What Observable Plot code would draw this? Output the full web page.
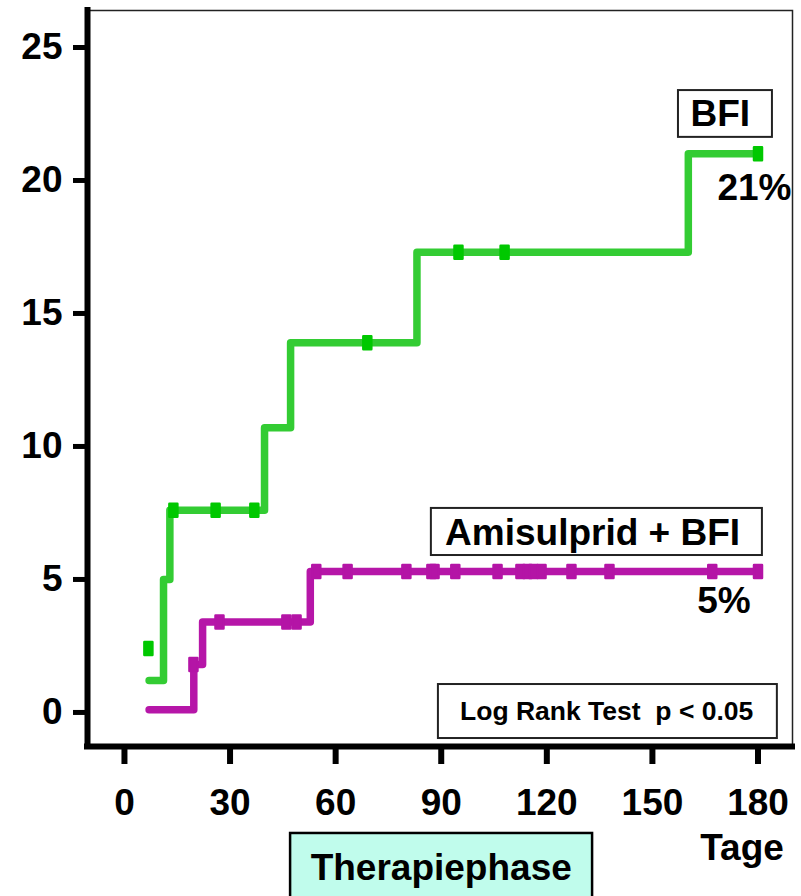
<!DOCTYPE html>
<html>
<head>
<meta charset="utf-8">
<script src="https://cdn.jsdelivr.net/npm/d3@7"></script>
<script src="https://cdn.jsdelivr.net/npm/@observablehq/plot@0.6"></script>
<style>
  html, body { margin: 0; padding: 0; background: #fff; }
  #chart { width: 801px; height: 896px; overflow: hidden; }
</style>
</head>
<body>
<div id="chart"></div>
<script>
// ---- Data ----
const xTicks = [0, 30, 60, 90, 120, 150, 180];
const yTicks = [0, 5, 10, 15, 20, 25];

// BFI (green) step curve: day of step, cumulative %
const bfiDays = [7, 11.1, 12.9, 39.8, 47.2, 83.1, 160.2, 180];
const bfiPct  = [1.2, 5.0, 7.6, 10.7, 13.9, 17.3, 21.0, 21.0];
// BFI censored observations
const bfiCensDays = [6.8, 13.9, 25.9, 36.9, 69, 94.9, 108, 180];
const bfiCensPct  = [2.4, 7.6, 7.6, 7.6, 13.9, 17.3, 17.3, 21.0];

// Amisulprid + BFI (magenta) step curve
const amiDays = [7, 19.7, 22.2, 52.8, 180];
const amiPct  = [0.1, 1.8, 3.4, 5.3, 5.3];
// Amisulprid + BFI censored observations
const amiCensDays = [19.6, 27, 46, 48.9, 54.5, 63.4, 80.1, 87.2, 88.1, 94, 106, 112.5, 114.5, 116.2, 118.5, 127, 137.8, 167, 180];
const amiCensPct  = [1.8, 3.4, 3.4, 3.4, 5.3, 5.3, 5.3, 5.3, 5.3, 5.3, 5.3, 5.3, 5.3, 5.3, 5.3, 5.3, 5.3, 5.3, 5.3];

// Annotation texts
const boxLabels = ["BFI", "Amisulprid + BFI", "Log Rank Test\u00A0\u00A0p < 0.05"];
const endLabels = ["21%", "5%"];
const phaseLabel = "Therapiephase";
const unitLabel = "Tage";

// ---- Build tables ----
const bfi = bfiDays.map((d, i) => ({day: d, pct: bfiPct[i]}));
const ami = amiDays.map((d, i) => ({day: d, pct: amiPct[i]}));
const bfiCens = bfiCensDays.map((d, i) => ({day: d, pct: bfiCensPct[i]}));
const amiCens = amiCensDays.map((d, i) => ({day: d, pct: amiCensPct[i]}));

const boxes = [
  {label: boxLabels[0], x1: 157.4, x2: 184.1, y1: 21.62, y2: 23.38, tx: 169.3, ty: 22.5, size: 37},
  {label: boxLabels[1], x1: 87.2,  x2: 181.25, y1: 5.90, y2: 7.67, tx: 133, ty: 6.75, size: 37},
  {label: boxLabels[2], x1: 89.2,  x2: 185.5, y1: -0.98, y2: 1.05, tx: 137, ty: 0.04, size: 26.5}
];
const ends = [
  {label: endLabels[0], x: 179, y: 19.7},
  {label: endLabels[1], x: 170.3, y: 4.17}
];

const xDomain = [-10.5, 189.8];
const yDomain = [-1.28, 26.39];

// censor tick symbol: small upright rectangle
const censorSymbol = {
  draw(ctx) {
    ctx.moveTo(-4, -6.5);
    ctx.lineTo(4, -6.5);
    ctx.lineTo(4, 6.5);
    ctx.lineTo(-4, 6.5);
    ctx.closePath();
  }
};

const font = "'Liberation Sans', Arial, Helvetica, sans-serif";
const green = "#33CC33", greenMark = "#00C800";
const magenta = "#B616A8", magentaMark = "#B414A6";

const chart = Plot.plot({
  width: 801,
  height: 896,
  marginLeft: 87,
  marginRight: 9,
  marginTop: 10,
  marginBottom: 150,
  style: {fontFamily: font, fontWeight: "bold", background: "#fff", color: "#000", overflow: "visible"},
  x: {domain: xDomain, axis: null},
  y: {domain: yDomain, axis: null},
  marks: [
    // thin top/right border
    Plot.frame({stroke: "#222", strokeWidth: 1.5}),
    // axes
    Plot.axisY(yTicks, {tickSize: 14, tickPadding: 11, fontSize: 37, strokeWidth: 5, label: null, tickFormat: d => String(d)}),
    Plot.axisX(xTicks, {tickSize: 18, tickPadding: 24, fontSize: 37, strokeWidth: 6, label: null, tickFormat: d => String(d)}),
    Plot.ruleX([xDomain[0]], {stroke: "#000", strokeWidth: 6, strokeLinecap: "square"}),
    Plot.ruleY([yDomain[0]], {stroke: "#000", strokeWidth: 6, strokeLinecap: "square"}),
    // curves
    Plot.line(bfi, {x: "day", y: "pct", curve: "step-after", stroke: green, strokeWidth: 7.5, strokeLinejoin: "round"}),
    Plot.line(ami, {x: "day", y: "pct", curve: "step-after", stroke: magenta, strokeWidth: 7.5, strokeLinejoin: "round"}),
    Plot.dot(bfiCens, {x: "day", y: "pct", symbol: censorSymbol, fill: greenMark, stroke: greenMark, strokeWidth: 2.5, strokeLinejoin: "round"}),
    Plot.dot(amiCens, {x: "day", y: "pct", symbol: censorSymbol, fill: magentaMark, stroke: magentaMark, strokeWidth: 2.5, strokeLinejoin: "round"}),
    // annotation boxes
    Plot.rect(boxes, {x1: "x1", x2: "x2", y1: "y1", y2: "y2", fill: "#fff", stroke: "#222", strokeWidth: 2}),
    Plot.text(boxes, {x: "tx", y: "ty", text: "label", fontSize: "size", fill: "#000", fontWeight: "bold"}),
    Plot.text(ends, {x: "x", y: "y", text: "label", fontSize: 37, fill: "#000", fontWeight: "bold"}),
    // unit label under 180
    Plot.text([unitLabel], {x: xTicks[xTicks.length - 1], frameAnchor: "bottom", dy: 113, dx: -16, text: d => d, fontSize: 37, fill: "#000", fontWeight: "bold"}),
    // Therapiephase box below the axis
    Plot.rect([phaseLabel], {x1: 47.2, x2: 133, y1: -7.2, y2: -4.55, fill: "#C0FCEC", stroke: "#000", strokeWidth: 2.5, clip: false}),
    Plot.text([phaseLabel], {x: 90, y: -5.85, text: d => d, fontSize: 37, fill: "#000", fontWeight: "bold"})
  ]
});

document.getElementById("chart").appendChild(chart);
</script>
</body>
</html>
